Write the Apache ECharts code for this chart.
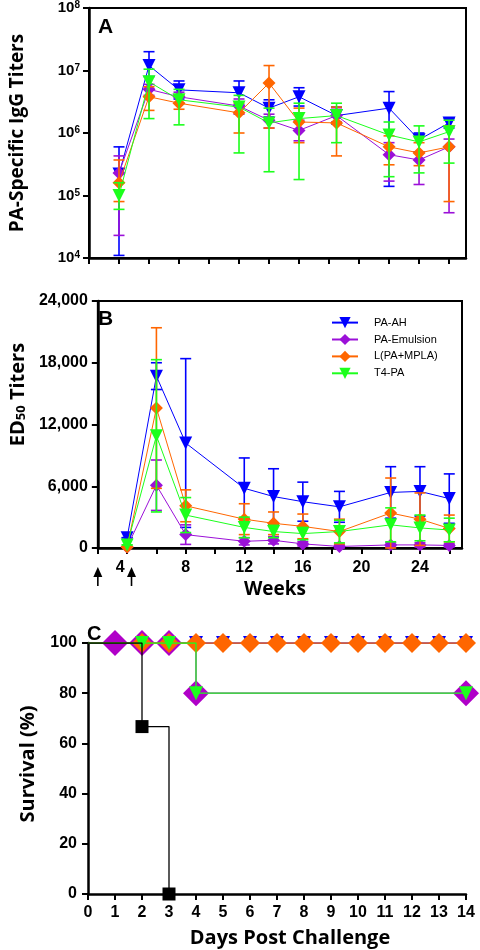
<!DOCTYPE html>
<html><head><meta charset="utf-8">
<script src="https://cdn.jsdelivr.net/npm/echarts@6/dist/echarts.min.js"></script>
<style>html,body{margin:0;padding:0;background:#fff}#c{width:480px;height:950px}</style>
</head><body><div id="c"></div><script>
// ---------------- DATA ----------------
const seriesNames = ['PA-AH', 'PA-Emulsion', 'L(PA+MPLA)', 'T4-PA'];
const weeks = [4, 6, 8, 12, 14, 16, 18.5, 22, 24, 26];
const weekTicks = [2, 4, 6, 8, 10, 12, 14, 16, 18, 20, 22, 24, 26];
const weekLabels = [4, 8, 12, 16, 20, 24];
const immunizationWeeks = [2, 4.3];

// Panel A: PA-specific IgG titers (mean, upper, lower)
const iggPAAH      = [2.2e5, 1.2e7, 4.9e6, 4.4e6, 2.5e6, 3.8e6, 1.9e6, 2.5e6, 7.8e5, 1.45e6];
const iggPAAHHi    = [6.0e5, 2.0e7, 6.8e6, 6.8e6, 3.4e6, 5.3e6, 2.6e6, 4.6e6, 1.0e6, 1.7e6];
const iggPAAHLo    = [1.1e4, 8.0e6, 3.5e6, 2.8e6, 1.8e6, 2.7e6, 1.4e6, 1.4e5, 5.0e5, 1.2e6];
const iggEmul      = [2.3e5, 5.0e6, 3.8e6, 2.7e6, 1.6e6, 1.1e6, 1.9e6, 4.5e5, 3.7e5, 6.0e5];
const iggEmulHi    = [4.3e5, 6.0e6, 4.5e6, 3.5e6, 2.0e6, 1.6e6, 2.4e6, 7.0e5, 5.0e5, 8.0e5];
const iggEmulLo    = [2.3e4, 4.0e6, 3.0e6, 2.0e6, 1.2e6, 7.5e5, 1.5e6, 1.7e5, 1.5e5, 5.3e4];
const iggLipo      = [1.6e5, 3.8e6, 3.0e6, 2.1e6, 6.3e6, 1.5e6, 1.45e6, 6.0e5, 4.8e5, 6.0e5];
const iggLipoHi    = [3.7e5, 5.5e6, 4.0e6, 3.0e6, 1.2e7, 2.5e6, 2.6e6, 9.0e5, 7.0e5, 1.3e6];
const iggLipoLo    = [8.0e4, 2.3e6, 2.4e6, 1.0e6, 1.2e6, 7.0e5, 4.3e5, 3.1e5, 3.0e5, 8.0e4];
const iggT4        = [1.0e5, 6.6e6, 3.4e6, 2.6e6, 1.45e6, 1.7e6, 1.9e6, 9.3e5, 7.2e5, 1.05e6];
const iggT4Hi      = [1.6e5, 1.05e7, 5.0e6, 4.0e6, 2.5e6, 3.0e6, 3.0e6, 1.5e6, 1.3e6, 1.6e6];
const iggT4Lo      = [6.0e4, 1.7e6, 1.35e6, 4.8e5, 2.4e5, 1.8e5, 7.0e5, 2.0e5, 2.3e5, 3.3e5];

// Panel B: ED50 titers (mean, upper, lower)
const edPAAH   = [1000, 16700, 10200, 5800, 5000, 4500, 4000, 5400, 5500, 4800];
const edPAAHHi = [1000, 18000, 18400, 8750, 7700, 6400, 5500, 7900, 7900, 7200];
const edPAAHLo = [1000, 15400, 2000, 2850, 2300, 2600, 2500, 2900, 3100, 2400];
const edEmul   = [100, 6100, 1300, 650, 750, 400, 150, 300, 300, 250];
const edEmulHi = [100, 8550, 2250, 1000, 1100, 600, 300, 500, 500, 400];
const edEmulLo = [100, 3650, 350, 300, 400, 200, 0, 100, 100, 100];
const edLipo   = [100, 13600, 4100, 2800, 2400, 2100, 1600, 3400, 2800, 1900];
const edLipoHi = [100, 21400, 5650, 4300, 3500, 3300, 2800, 6800, 5350, 3200];
const edLipoLo = [100, 5800, 2550, 1300, 1300, 900, 400, 0, 250, 600];
const edT4     = [300, 10900, 3200, 2000, 1600, 1400, 1600, 2250, 1950, 1750];
const edT4Hi   = [300, 18300, 4900, 3000, 2200, 2000, 2700, 3900, 3200, 2900];
const edT4Lo   = [300, 3500, 1500, 1000, 1000, 800, 500, 600, 700, 600];

// Panel C: survival (%)
const days = [0, 1, 2, 3, 4, 5, 6, 7, 8, 9, 10, 11, 12, 13, 14];
const survPAAH = [100, 100, 100, 100, 100, 100, 100, 100, 100, 100, 100, 100, 100, 100, 100];
const survEmul = [100, 100, 100, 100, 80, 80, 80, 80, 80, 80, 80, 80, 80, 80, 80];
const survLipo = [100, 100, 100, 100, 100, 100, 100, 100, 100, 100, 100, 100, 100, 100, 100];
const survT4   = [100, 100, 100, 100, 80, 80, 80, 80, 80, 80, 80, 80, 80, 80, 80];
const markPAAH = [4, 5, 6, 7, 8, 9, 10, 11, 12, 13, 14];
const markEmul = [1, 2, 3, 4, 14];
const markLipo = [2, 3, 4, 5, 6, 7, 8, 9, 10, 11, 12, 13, 14];
const markT4   = [2, 3, 4, 14];
const controlName = 'Control';
const controlDays = [0, 2, 3];
const controlSurv = [100, 66.7, 0];
const controlMarks = [2, 3];

// ---------------- STYLE ----------------
const colorsAB = ['#0000ff', '#9b10d8', '#ff6600', '#1cff1c'];
const colorsC  = ['#0000ff', '#b000c8', '#ff6600', '#1cff1c'];
const symbols = ['triangle', 'diamond', 'diamond', 'triangle'];
const rots = [180, 0, 0, 180];
const zA = [3, 4, 5, 6];
const tickFont = "'Liberation Sans', Arial, sans-serif";
const nameFont = "'Open Sans', 'Liberation Sans', sans-serif";

const iggSets = [[iggPAAH, iggPAAHHi, iggPAAHLo], [iggEmul, iggEmulHi, iggEmulLo], [iggLipo, iggLipoHi, iggLipoLo], [iggT4, iggT4Hi, iggT4Lo]];
const edSets = [[edPAAH, edPAAHHi, edPAAHLo], [edEmul, edEmulHi, edEmulLo], [edLipo, edLipoHi, edLipoLo], [edT4, edT4Hi, edT4Lo]];
const survSets = [[survPAAH, markPAAH], [survEmul, markEmul], [survLipo, markLipo], [survT4, markT4]];

function errSeries(color, gi, xs, hi, lo, z) {
  return {
    type: 'custom', xAxisIndex: gi, yAxisIndex: gi, z: z, silent: true,
    data: xs.map((x, i) => [x, lo[i], hi[i]]),
    encode: { x: 0, y: [1, 2] },
    renderItem: function (params, api) {
      const x = api.value(0);
      const p1 = api.coord([x, api.value(2)]);
      const p2 = api.coord([x, api.value(1)]);
      const w = 5.5;
      const st = { stroke: color, lineWidth: 1.6 };
      return { type: 'group', children: [
        { type: 'line', shape: { x1: p1[0], y1: p1[1], x2: p2[0], y2: p2[1] }, style: st },
        { type: 'line', shape: { x1: p1[0] - w, y1: p1[1], x2: p1[0] + w, y2: p1[1] }, style: st },
        { type: 'line', shape: { x1: p2[0] - w, y1: p2[1], x2: p2[0] + w, y2: p2[1] }, style: st }
      ]};
    }
  };
}

const series = [];
iggSets.forEach((s, k) => {
  series.push({
    name: seriesNames[k], type: 'line', xAxisIndex: 0, yAxisIndex: 0, z: zA[k] + 0.5,
    data: weeks.map((w, i) => [w, s[0][i]]),
    symbol: symbols[k], symbolRotate: rots[k], symbolSize: 13, showAllSymbol: true,
    itemStyle: { color: colorsAB[k] }, lineStyle: { color: colorsAB[k], width: 1 }
  });
});
iggSets.forEach((s, k) => series.push(errSeries(colorsAB[k], 0, weeks, s[1], s[2], zA[k])));
edSets.forEach((s, k) => {
  series.push({
    name: seriesNames[k], type: 'line', xAxisIndex: 1, yAxisIndex: 1, z: zA[k] + 0.5,
    data: weeks.map((w, i) => [w, s[0][i]]),
    symbol: symbols[k], symbolRotate: rots[k], symbolSize: 13, showAllSymbol: true,
    itemStyle: { color: colorsAB[k] }, lineStyle: { color: colorsAB[k], width: 1 }
  });
});
edSets.forEach((s, k) => series.push(errSeries(colorsAB[k], 1, weeks, s[1], s[2], zA[k])));
const sizesC = [14, 26, 20, 14];
const zC = [3, 4, 5, 6];
[0, 2, 1, 3].forEach(k => {
  const s = survSets[k];
  series.push({
    name: seriesNames[k], type: 'line', xAxisIndex: 2, yAxisIndex: 2, z: zC[k], step: 'end',
    data: days.map((d, i) => ({ value: [d, s[0][i]], symbol: s[1].includes(d) ? symbols[k] : 'none' })),
    symbolRotate: rots[k], symbolSize: sizesC[k], showAllSymbol: true,
    itemStyle: { color: colorsC[k] }, lineStyle: { color: colorsC[k], width: 1.3 }
  });
});
series.push({
  name: controlName, type: 'line', xAxisIndex: 2, yAxisIndex: 2, z: 7, step: 'end',
  data: controlDays.map((d, i) => ({ value: [d, controlSurv[i]], symbol: controlMarks.includes(d) ? 'rect' : 'none' })),
  symbolSize: 13, showAllSymbol: true,
  itemStyle: { color: '#000' }, lineStyle: { color: '#000', width: 1.3 }
});

const axLine = { show: true, onZero: false, lineStyle: { color: '#000', width: 2.5 } };
const axTick = { show: true, length: 6, lineStyle: { color: '#000', width: 2 } };

const option = {
  animation: false,
  backgroundColor: '#fff',
  title: [
    { text: 'A', left: 93, top: 12, textStyle: { fontSize: 21, fontWeight: 'bold', color: '#000', fontFamily: tickFont } },
    { text: 'B', left: 93, top: 304, textStyle: { fontSize: 21, fontWeight: 'bold', color: '#000', fontFamily: tickFont } },
    { text: 'C', left: 82, top: 619, textStyle: { fontSize: 20, fontWeight: 'bold', color: '#000', fontFamily: tickFont } }
  ],
  legend: {
    data: seriesNames, orient: 'vertical', left: 326, top: 312,
    itemWidth: 26, itemHeight: 14, itemGap: 5.7,
    textStyle: { fontSize: 11, color: '#000', fontFamily: tickFont, padding: [0, 0, 0, 11] }
  },
  grid: [
    { left: 89, top: 8, width: 377, height: 250, show: true, borderColor: '#000', borderWidth: 2, backgroundColor: 'transparent' },
    { left: 89, top: 301, width: 373, height: 247, show: true, borderColor: '#000', borderWidth: 2, backgroundColor: 'transparent' },
    { left: 88, top: 643, width: 378, height: 251 }
  ],
  xAxis: [
    { type: 'value', gridIndex: 0, min: 2, max: 27.13, axisLine: axLine,
      axisTick: Object.assign({}, axTick, { customValues: weekTicks }),
      axisLabel: { show: false }, splitLine: { show: false } },
    { type: 'value', gridIndex: 1, min: 2, max: 26.87, axisLine: axLine,
      axisTick: Object.assign({}, axTick, { customValues: weekTicks }),
      axisLabel: { customValues: weekLabels, margin: 12, fontSize: 16, fontWeight: 'bold', color: '#000', fontFamily: tickFont,
        formatter: v => v === 4 ? '{l|4}' : String(v),
        rich: { l: { fontSize: 16, fontWeight: 'bold', color: '#000', fontFamily: tickFont, padding: [0, 14, 0, 0] } } },
      splitLine: { show: false },
      name: 'Weeks', nameLocation: 'middle', nameGap: 32,
      nameTextStyle: { fontSize: 19, fontWeight: 'bold', color: '#000', fontFamily: nameFont, padding: [0, 10, 0, 0] } },
    { type: 'value', gridIndex: 2, min: 0, max: 14, interval: 1, axisLine: axLine, axisTick: axTick,
      axisLabel: { margin: 11, fontSize: 16, fontWeight: 'bold', color: '#000', fontFamily: tickFont },
      splitLine: { show: false },
      name: 'Days Post Challenge', nameLocation: 'middle', nameGap: 34,
      nameTextStyle: { fontSize: 20, fontWeight: 'bold', color: '#000', fontFamily: nameFont, padding: [0, 0, 0, 26] } }
  ],
  yAxis: [
    { type: 'log', logBase: 10, gridIndex: 0, min: 1e4, max: 1e8, axisLine: axLine, axisTick: axTick,
      minorTick: { show: false }, splitLine: { show: false },
      axisLabel: { margin: 9, formatter: v => '{b|10}{s|' + Math.round(Math.log10(v)) + '}',
        rich: { b: { fontSize: 15, fontWeight: 'bold', color: '#000', fontFamily: tickFont, verticalAlign: 'bottom' },
                s: { fontSize: 10, fontWeight: 'bold', color: '#000', fontFamily: tickFont, verticalAlign: 'top' } } },
      name: 'PA-Specific IgG Titers', nameLocation: 'middle', nameRotate: 90, nameGap: 62,
      nameTextStyle: { fontSize: 19, fontWeight: 'bold', color: '#000', fontFamily: nameFont } },
    { type: 'value', gridIndex: 1, min: 0, max: 24000, interval: 6000, axisLine: axLine, axisTick: axTick,
      splitLine: { show: false },
      axisLabel: { margin: 10, fontSize: 16, fontWeight: 'bold', color: '#000', fontFamily: tickFont,
        formatter: v => v.toLocaleString('en-US') },
      name: '{a|ED}{s|50}{a| Titers}', nameLocation: 'middle', nameRotate: 90, nameGap: 62,
      nameTextStyle: { padding: [0, 0, 0, 60],
        rich: { a: { fontSize: 20, fontWeight: 'bold', color: '#000', fontFamily: nameFont, verticalAlign: 'top' },
                s: { fontSize: 13, fontWeight: 'bold', color: '#000', fontFamily: nameFont, verticalAlign: 'bottom' } } } },
    { type: 'value', gridIndex: 2, min: 0, max: 100, interval: 20, axisLine: axLine, axisTick: axTick,
      splitLine: { show: false },
      axisLabel: { margin: 11, fontSize: 16, fontWeight: 'bold', color: '#000', fontFamily: tickFont },
      name: 'Survival (%)', nameLocation: 'middle', nameRotate: 90, nameGap: 50,
      nameTextStyle: { fontSize: 20, fontWeight: 'bold', color: '#000', fontFamily: nameFont, padding: [0, 0, 0, 9] } }
  ],
  series: series
};

const chart = echarts.init(document.getElementById('c'), null, { renderer: 'canvas' });
chart.setOption(option);

// immunization arrows below panel B axis
const arrows = immunizationWeeks.map(w => {
  const p = chart.convertToPixel({ xAxisIndex: 1, yAxisIndex: 1 }, [w, 0]);
  const x = p[0], y = p[1];
  return { type: 'group', children: [
    { type: 'line', shape: { x1: x, y1: y + 24, x2: x, y2: y + 38 }, style: { stroke: '#000', lineWidth: 1.6 } },
    { type: 'polygon', shape: { points: [[x, y + 19], [x - 4.5, y + 29], [x + 4.5, y + 29]] }, style: { fill: '#000' } }
  ]};
});
chart.setOption({ graphic: arrows });
</script></body></html>
